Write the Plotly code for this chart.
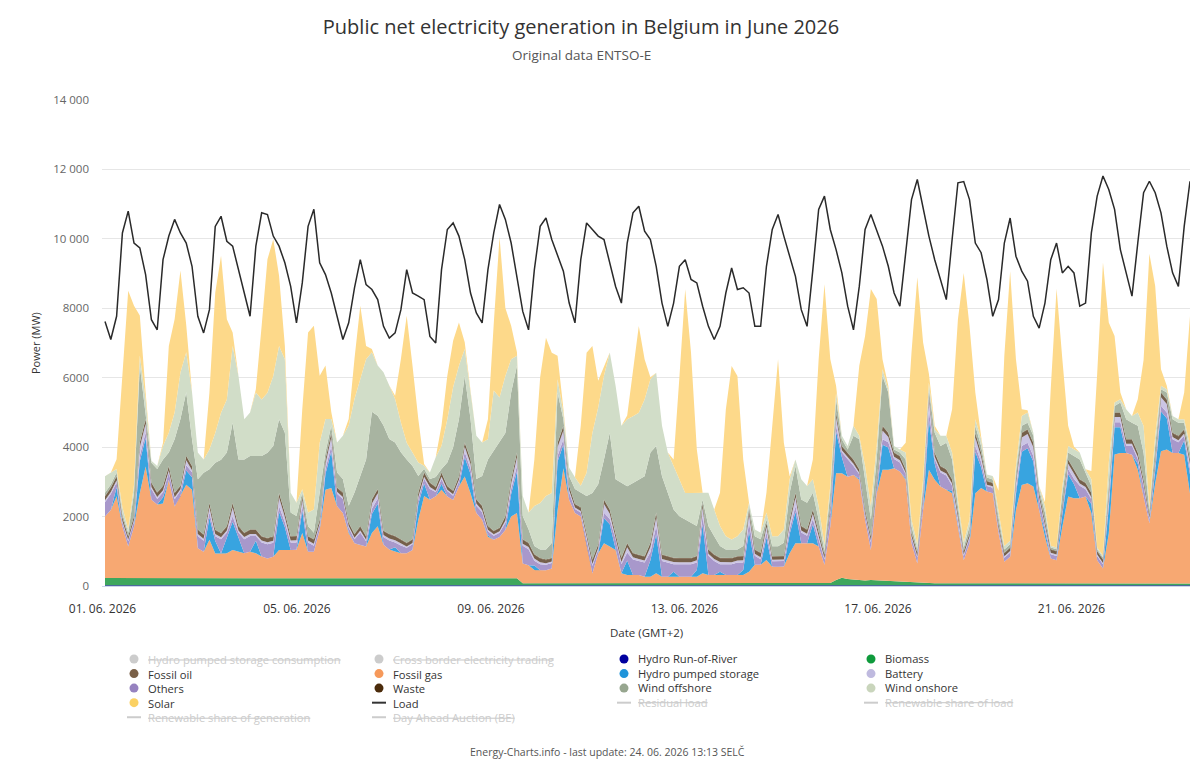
import pandas as pd
import plotly.graph_objects as go

# ---------------- data (3-hourly values, MW, from 01.06.2026 00:00 GMT+2) ----------------
start_time = "2026-06-01 00:00"

load = [
    7620, 7100, 7770, 10170, 10800, 9880, 9740, 8970,
    7670, 7380, 9400, 10080, 10560, 10170, 9880, 9210,
    7770, 7290, 7960, 10360, 10650, 9930, 9790, 9115,
    8440, 7770, 9790, 10750, 10700, 10080, 9790, 9310,
    8630, 7580, 8730, 10360, 10850, 9310, 8970, 8440,
    7770, 7100, 7580, 8590, 9400, 8680, 8540, 8250,
    7480, 7140, 7290, 7960, 9115, 8440, 8350, 8250,
    7190, 7000, 9115, 10270, 10460, 10080, 9400, 8440,
    7865, 7580, 9115, 10170, 10990, 10560, 9880, 8830,
    7910, 7380, 9115, 10360, 10600, 9980, 9550, 9070,
    8150, 7580, 9400, 10460, 10270, 10080, 9980, 9310,
    8630, 8150, 9880, 10750, 10940, 10220, 9980, 9210,
    8150, 7480, 8150, 9210, 9400, 8830, 8730, 8060,
    7480, 7100, 7480, 8440, 9160, 8540, 8590, 8440,
    7480, 7480, 9210, 10270, 10700, 10080, 9500, 8920,
    7960, 7480, 9115, 10850, 11230, 10270, 9690, 9020,
    8060, 7380, 8630, 10270, 10700, 10270, 9790, 9210,
    8440, 8060, 9600, 11130, 11710, 10850, 10080, 9400,
    8830, 8250, 9980, 11615, 11650, 11130, 9880, 9600,
    8830, 7770, 8250, 9880, 10600, 9500, 9070, 8780,
    7770, 7430, 8150, 9400, 9880, 9020, 9210, 9020,
    8060, 8150, 10170, 11230, 11810, 11420, 10850, 9690,
    9020, 8350, 9880, 11330, 11660, 11330, 10750, 9790,
    9020, 8630, 10360, 11660,
]

solar = [
    0, 0, 280, 3810, 6870, 5160, 1150, 190,
    0, 0, 95, 2500, 2690, 2940, 790, 0,
    0, 0, 1640, 4040, 4520, 2310, 390, 0,
    0, 0, 90, 2120, 3840, 3940, 2020, 380,
    0, 0, 2300, 5190, 5290, 1930, 1540, 200,
    0, 0, 190, 1155, 2120, 380, 100, 0,
    0, 0, 95, 1830, 3655, 2500, 1250, 50,
    0, 0, 580, 1250, 1340, 1245, 190, 50,
    0, 0, 580, 1920, 4615, 1960, 960, 100,
    0, 0, 1340, 3620, 4560, 4040, 680, 120,
    0, 0, 1735, 3460, 2500, 770, 260, 0,
    0, 0, 110, 1250, 2500, 1155, 60, 0,
    0, 0, 190, 2940, 5870, 4040, 1250, 0,
    0, 0, 960, 3655, 5000, 4620, 2015, 0,
    0, 0, 570, 3180, 5100, 2500, 90, 0,
    0, 0, 570, 4230, 7500, 3655, 190, 0,
    0, 0, 2020, 3750, 6250, 4230, 290, 100,
    0, 0, 285, 4810, 7690, 3940, 250, 100,
    0, 0, 1245, 5190, 7770, 5580, 770, 90,
    0, 0, 570, 5480, 7770, 3080, 195, 70,
    0, 0, 110, 4520, 7450, 3655, 580, 80,
    0, 0, 240, 5000, 8450, 4040, 1920, 195,
    0, 0, 385, 1900, 7310, 4320, 480, 100,
    0, 0, 770, 3750,
]

wind_onshore = [
    480, 340, 100, 190, 100, 230, 290, 390,
    60, 90, 390, 570, 770, 1340, 1150, 1350,
    770, 380, 570, 860, 1350, 1530, 2210, 2410,
    1160, 1250, 1830, 1630, 1730, 2020, 2110, 2120,
    570, 380, 100, 390, 670, 1445, 960, 190,
    865, 1250, 2310, 2695, 2790, 2890, 1710, 1450,
    1530, 1540, 1250, 860, 485, 390, 390, 90,
    190, 570, 670, 1250, 1730, 1540, 770, 770,
    1250, 965, 580, 1730, 1250, 1640, 960, 290,
    580, 480, 1155, 1340, 1540, 1440, 380, 190,
    240, 340, 195, 670, 1730, 2210, 2410, 2310,
    2690, 1640, 1925, 1920, 1920, 2215, 2110, 2110,
    1450, 1160, 1250, 1060, 770, 860, 960, 190,
    960, 770, 575, 380, 290, 380, 480, 90,
    195, 190, 200, 285, 285, 385, 390, 190,
    580, 485, 390, 390, 190, 195, 195, 100,
    100, 290, 100, 380, 390, 390, 190, 90,
    100, 90, 200, 190, 150, 195, 200, 100,
    290, 195, 200, 190, 145, 190, 190, 190,
    90, 100, 200, 100, 95, 190, 280, 290,
    90, 95, 190, 50, 50, 195, 190, 190,
    200, 100, 195, 50, 50, 580, 100, 95,
    285, 190, 380, 770, 90, 290, 100, 90,
    90, 100, 100, 190,
]

wind_offshore = [
    90, 90, 100, 100, 100, 670, 2210, 190,
    570, 680, 760, 390, 1540, 1920, 1830, 770,
    1450, 1780, 970, 1930, 2110, 2120, 2310, 1920,
    2110, 2120, 2120, 2310, 2455, 2600, 2120, 2300,
    680, 580, 90, 290, 190, 770, 200, 200,
    430, 390, 480, 1200, 1440, 2210, 2520, 2110,
    3030, 2740, 2695, 2500, 2400, 2110, 480, 100,
    100, 290, 100, 675, 1250, 1640, 1925, 1160,
    580, 860, 1920, 2310, 2500, 2400, 2500, 2500,
    670, 390, 235, 240, 290, 430, 1445, 190,
    285, 430, 430, 1060, 1920, 1730, 1150, 2210,
    1540, 2160, 1635, 2020, 2170, 2300, 2600, 1920,
    2260, 1820, 1390, 1200, 1100, 1010, 860, 100,
    670, 530, 335, 240, 240, 190, 285, 100,
    380, 390, 90, 285, 285, 380, 770, 770,
    770, 765, 480, 380, 100, 380, 385, 190,
    90, 680, 860, 870, 480, 570, 1440, 1160,
    90, 100, 280, 190, 90, 195, 90, 570,
    580, 765, 570, 190, 95, 190, 200, 190,
    100, 95, 190, 90, 95, 190, 200, 190,
    195, 100, 200, 50, 50, 290, 200, 380,
    570, 290, 195, 50, 50, 290, 190, 290,
    580, 480, 770, 770, 100, 390, 90, 195,
    390, 380, 190, 200,
]

fossil_gas = [
    1770, 1960, 2350, 1480, 910, 1480, 2440, 3210,
    2250, 2110, 2150, 2830, 2060, 2350, 2680, 2540,
    860, 760, 1100, 710, 710, 710, 810, 760,
    710, 760, 710, 620, 570, 620, 810, 810,
    810, 810, 1290, 760, 760, 1385, 2540, 2590,
    2060, 1870, 1290, 1000, 950, 905, 1290, 1480,
    950, 810, 760, 710, 710, 810, 1670, 2350,
    2250, 2350, 2540, 2350, 2250, 2635, 2920, 2440,
    1870, 1670, 1190, 1100, 1190, 1385, 1770, 1880,
    570, 520, 380, 380, 380, 430, 2110, 3310,
    2400, 2020, 1920, 1150, 285, 860, 1150, 1055,
    960, 285, 240, 240, 240, 190, 190, 285,
    190, 190, 190, 190, 190, 190, 190, 285,
    240, 240, 240, 240, 240, 240, 240, 330,
    530, 530, 670, 480, 480, 480, 860, 1150,
    1150, 1150, 1150, 1055, 530, 1630, 3080, 3010,
    2950, 3020, 2890, 1740, 870, 2510, 3200, 3210,
    3260, 3180, 2950, 1130, 560, 2110, 3270, 2980,
    2785, 2690, 2590, 1630, 670, 1150, 2590, 2740,
    2640, 2590, 1440, 620, 770, 2110, 2830, 2880,
    2785, 2110, 1340, 720, 670, 1630, 2500, 2450,
    2450, 2500, 2020, 670, 430, 1440, 3710, 3750,
    3750, 3700, 3270, 2500, 1730, 2880, 3800, 3850,
    3750, 3750, 3700, 2590,
]

hydro_pumped_storage = [
    0, 0, 260, 0, 0, 0, 920, 820,
    0, 0, 180, 0, 0, 0, 410, 360,
    0, 0, 640, 360, 0, 460, 810, 410,
    0, 0, 360, 0, 0, 0, 1100, 650,
    0, 0, 650, 0, 0, 0, 450, 1050,
    0, 0, 40, 0, 0, 0, 550, 650,
    0, 0, 120, 0, 0, 0, 460, 360,
    0, 0, 170, 0, 0, 0, 555, 550,
    0, 0, 40, 0, 0, 0, 650, 1200,
    0, 0, 130, 0, 0, 0, 1395, 680,
    0, 0, 0, 0, 0, 0, 720, 645,
    0, 0, 420, 0, 0, 0, 470, 1125,
    0, 0, 140, 0, 0, 0, 190, 1405,
    0, 0, 90, 0, 0, 0, 140, 1170,
    0, 0, 650, 0, 0, 0, 550, 910,
    0, 0, 550, 0, 0, 0, 1200, 460,
    0, 0, 40, 0, 0, 0, 720, 640,
    0, 0, 40, 0, 0, 0, 1440, 460,
    0, 0, 80, 0, 0, 0, 1200, 600,
    0, 0, 0, 0, 0, 460, 960, 1010,
    720, 0, 170, 0, 0, 360, 640, 410,
    0, 0, 260, 0, 0, 740, 780, 740,
    0, 0, 170, 0, 0, 360, 1150, 905,
    0, 0, 410, 550,
]

others = [
    410, 460, 140, 120, 150, 160, 160, 160,
    310, 160, 140, 210, 210, 160, 150, 140,
    350, 310, 150, 140, 410, 140, 160, 140,
    410, 450, 140, 400, 405, 400, 160, 150,
    210, 210, 150, 260, 170, 155, 150, 160,
    360, 400, 120, 120, 360, 155, 150, 150,
    220, 260, 140, 220, 160, 160, 140, 140,
    310, 120, 140, 155, 120, 155, 150, 150,
    210, 220, 120, 120, 120, 215, 150, 160,
    510, 460, 140, 170, 160, 160, 160, 160,
    215, 120, 120, 160, 215, 120, 160, 150,
    310, 265, 230, 450, 400, 410, 230, 240,
    450, 410, 220, 360, 360, 360, 220, 240,
    550, 400, 220, 310, 310, 360, 220, 240,
    260, 160, 150, 160, 160, 160, 150, 160,
    310, 215, 150, 215, 150, 410, 160, 140,
    510, 260, 120, 160, 210, 220, 160, 150,
    270, 260, 120, 160, 170, 310, 300, 140,
    405, 410, 140, 220, 120, 160, 160, 150,
    160, 160, 120, 120, 120, 150, 160, 160,
    160, 310, 140, 120, 120, 140, 150, 150,
    360, 210, 140, 120, 120, 150, 150, 150,
    210, 260, 140, 310, 120, 140, 160, 160,
    400, 310, 140, 150,
]

battery = [
    60, 60, 60, 40, 40, 40, 250, 250,
    60, 60, 60, 60, 60, 40, 150, 60,
    60, 60, 150, 60, 60, 60, 250, 60,
    60, 60, 60, 60, 60, 60, 250, 150,
    60, 60, 150, 60, 60, 40, 150, 250,
    60, 60, 40, 40, 60, 40, 150, 150,
    60, 60, 60, 60, 40, 40, 60, 60,
    60, 40, 60, 40, 40, 40, 150, 150,
    60, 60, 40, 40, 40, 60, 150, 250,
    60, 60, 60, 60, 40, 40, 250, 250,
    60, 40, 40, 40, 60, 40, 250, 150,
    60, 60, 150, 60, 60, 60, 150, 250,
    60, 60, 60, 60, 60, 60, 60, 250,
    60, 60, 60, 60, 60, 60, 60, 250,
    60, 60, 150, 40, 40, 40, 150, 250,
    60, 60, 150, 60, 40, 60, 250, 60,
    60, 60, 40, 40, 60, 60, 250, 150,
    60, 60, 40, 40, 40, 60, 350, 60,
    60, 60, 60, 60, 40, 40, 250, 150,
    40, 40, 40, 40, 40, 150, 250, 250,
    250, 60, 60, 40, 40, 60, 150, 150,
    60, 60, 60, 40, 40, 150, 150, 150,
    60, 60, 60, 60, 40, 60, 250, 250,
    60, 60, 60, 150,
]

fossil_oil = [
    110, 110, 110, 90, 90, 90, 120, 120,
    110, 110, 110, 110, 110, 90, 110, 110,
    110, 110, 110, 110, 110, 110, 120, 110,
    110, 110, 110, 110, 110, 110, 120, 110,
    110, 110, 110, 110, 110, 90, 110, 120,
    110, 110, 90, 90, 110, 90, 110, 110,
    110, 110, 110, 110, 90, 90, 110, 110,
    110, 90, 110, 90, 90, 90, 110, 110,
    110, 110, 90, 90, 90, 110, 110, 120,
    110, 110, 110, 110, 90, 90, 120, 120,
    110, 90, 90, 90, 110, 90, 120, 110,
    110, 110, 110, 110, 110, 110, 110, 120,
    110, 110, 110, 110, 110, 110, 110, 120,
    110, 110, 110, 110, 110, 110, 110, 120,
    110, 110, 110, 90, 90, 90, 110, 120,
    110, 110, 110, 110, 90, 110, 120, 110,
    110, 110, 90, 90, 110, 110, 120, 110,
    110, 110, 90, 90, 90, 110, 120, 110,
    110, 110, 110, 110, 90, 90, 120, 110,
    90, 90, 90, 90, 90, 110, 120, 120,
    120, 110, 110, 90, 90, 110, 110, 110,
    110, 110, 110, 90, 90, 110, 110, 110,
    110, 110, 110, 110, 90, 110, 120, 120,
    110, 110, 110, 110,
]

waste = [
    15, 15, 15, 15, 15, 15, 15, 15,
    15, 15, 15, 15, 15, 15, 15, 15,
    15, 15, 15, 15, 15, 15, 15, 15,
    15, 15, 15, 15, 15, 15, 15, 15,
    15, 15, 15, 15, 15, 15, 15, 15,
    15, 15, 15, 15, 15, 15, 15, 15,
    15, 15, 15, 15, 15, 15, 15, 15,
    15, 15, 15, 15, 15, 15, 15, 15,
    15, 15, 15, 15, 15, 15, 15, 15,
    15, 15, 15, 15, 15, 15, 15, 15,
    15, 15, 15, 15, 15, 15, 15, 15,
    15, 15, 15, 15, 15, 15, 15, 15,
    15, 15, 15, 15, 15, 15, 15, 15,
    15, 15, 15, 15, 15, 15, 15, 15,
    15, 15, 15, 15, 15, 15, 15, 15,
    15, 15, 15, 15, 15, 15, 15, 15,
    15, 15, 15, 15, 15, 15, 15, 15,
    15, 15, 15, 15, 15, 15, 15, 15,
    15, 15, 15, 15, 15, 15, 15, 15,
    15, 15, 15, 15, 15, 15, 15, 15,
    15, 15, 15, 15, 15, 15, 15, 15,
    15, 15, 15, 15, 15, 15, 15, 15,
    15, 15, 15, 15, 15, 15, 15, 15,
    15, 15, 15, 15,
]

biomass = [
    210, 210, 215, 215, 210, 210, 215, 215,
    215, 215, 210, 210, 210, 215, 215, 215,
    210, 210, 210, 205, 205, 210, 210, 210,
    210, 210, 210, 210, 205, 205, 210, 210,
    210, 215, 215, 210, 210, 210, 215, 215,
    215, 215, 215, 210, 210, 210, 215, 220,
    220, 220, 215, 215, 210, 210, 215, 220,
    215, 215, 215, 210, 210, 210, 215, 215,
    215, 215, 210, 210, 205, 205, 210, 200,
    60, 60, 60, 55, 55, 55, 60, 60,
    60, 60, 60, 55, 55, 55, 60, 60,
    60, 60, 55, 55, 55, 55, 60, 60,
    60, 60, 60, 55, 55, 55, 60, 60,
    60, 60, 60, 55, 55, 55, 60, 60,
    60, 60, 60, 55, 55, 60, 60, 60,
    60, 60, 60, 60, 60, 65, 150, 220,
    180, 160, 150, 140, 150, 140, 130, 120,
    110, 100, 90, 80, 70, 60, 60, 60,
    60, 60, 60, 55, 55, 55, 60, 60,
    60, 60, 60, 55, 55, 55, 60, 60,
    60, 60, 60, 55, 55, 55, 60, 60,
    60, 60, 60, 55, 55, 55, 60, 60,
    60, 60, 60, 55, 55, 55, 60, 60,
    60, 60, 60, 55,
]

hydro_ror = [
    20, 20, 20, 20, 20, 20, 20, 20,
    20, 20, 20, 20, 20, 20, 20, 20,
    20, 20, 20, 20, 20, 20, 20, 20,
    20, 20, 20, 20, 20, 20, 20, 20,
    20, 20, 20, 20, 20, 20, 20, 20,
    20, 20, 20, 20, 20, 20, 20, 20,
    20, 20, 20, 20, 20, 20, 20, 20,
    20, 20, 20, 20, 20, 20, 20, 20,
    20, 20, 20, 20, 20, 20, 20, 20,
    20, 20, 20, 20, 20, 20, 20, 20,
    20, 20, 20, 20, 20, 20, 20, 20,
    20, 20, 20, 20, 20, 20, 20, 20,
    20, 20, 20, 20, 20, 20, 20, 20,
    20, 20, 20, 20, 20, 20, 20, 20,
    20, 20, 20, 20, 20, 20, 20, 20,
    20, 20, 20, 20, 20, 20, 20, 20,
    20, 20, 20, 20, 20, 20, 20, 20,
    20, 20, 20, 20, 20, 20, 20, 20,
    20, 20, 20, 20, 20, 20, 20, 20,
    20, 20, 20, 20, 20, 20, 20, 20,
    20, 20, 20, 20, 20, 20, 20, 20,
    20, 20, 20, 20, 20, 20, 20, 20,
    20, 20, 20, 20, 20, 20, 20, 20,
    20, 20, 20, 20,
]

y_tick_values = [0, 2000, 4000, 6000, 8000, 10000, 12000, 14000]
y_tick_labels = ["0", "2000", "4000", "6000", "8000", "10 000", "12 000", "14 000"]
x_tick_values = ["2026-05-31 22:43", "2026-06-05 03:16", "2026-06-09 07:35",
                 "2026-06-13 11:38", "2026-06-17 15:41", "2026-06-21 19:44"]
x_tick_labels = ["01. 06. 2026", "05. 06. 2026", "09. 06. 2026",
                 "13. 06. 2026", "17. 06. 2026", "21. 06. 2026"]

# ---------------- figure ----------------
n = min(len(s) for s in [load, solar, wind_onshore, wind_offshore, fossil_gas,
                         hydro_pumped_storage, others, battery, fossil_oil,
                         waste, biomass, hydro_ror])
times = pd.date_range(start_time, periods=n, freq="3h")

FONT = "Open Sans, Noto Sans, DejaVu Sans, sans-serif"

stack = [
    ("Hydro Run-of-River", hydro_ror, "#1c1c9c"),
    ("Biomass", biomass, "#3ea75d"),
    ("Fossil gas", fossil_gas, "#f7a872"),
    ("Hydro pumped storage", hydro_pumped_storage, "#38a4e0"),
    ("Others", others, "#a898cb"),
    ("Battery", battery, "#cbc5e4"),
    ("Fossil oil", fossil_oil, "#75604b"),
    ("Waste", waste, "#5b3d1c"),
    ("Wind offshore", wind_offshore, "#a8b4a1"),
    ("Wind onshore", wind_onshore, "#d1ddc8"),
    ("Solar", solar, "#fdd98a"),
]

fig = go.Figure()
for name, vals, col in stack:
    fig.add_trace(go.Scatter(
        x=times, y=vals[:n], name=name, mode="lines",
        stackgroup="gen", line=dict(width=0, color=col),
        fillcolor=col, showlegend=False,
        hovertemplate="%{y:.0f} MW<extra>" + name + "</extra>",
    ))

fig.add_trace(go.Scatter(
    x=times, y=load[:n], name="Load", mode="lines",
    line=dict(color="#2a2a2a", width=1.5), showlegend=False,
))

# page body has an 8px margin: the figure is laid out in screen pixels minus that offset
OFF = 8
W, H = 1192, 769
L, R, T, B = 102 - OFF, 10, 100 - OFF, 191
PW, PH = W - L - R, H - T - B


def px(xs):
    return (xs - OFF - L) / PW


def py(ys):
    return (T + PH - (ys - OFF)) / PH


annotations = []
shapes = []

annotations.append(dict(text="Original data ENTSO-E", x=px(581), xref="paper",
                        y=py(55), yref="paper", xanchor="center", yanchor="middle",
                        showarrow=False, font=dict(family=FONT, size=13.5, color="#555555")))
annotations.append(dict(text="Date (GMT+2)", x=px(646), y=py(632), xref="paper", yref="paper",
                        xanchor="center", yanchor="middle", showarrow=False,
                        font=dict(family=FONT, size=11.5, color="#333333")))
annotations.append(dict(text="Power (MW)", x=px(35), y=py(343), xref="paper", yref="paper",
                        xanchor="center", yanchor="middle", showarrow=False, textangle=-90,
                        font=dict(family=FONT, size=11, color="#333333")))
annotations.append(dict(text="Energy-Charts.info - last update: 24. 06. 2026 13:13 SELČ",
                        x=px(607), y=py(752), xref="paper", yref="paper",
                        xanchor="center", yanchor="middle", showarrow=False,
                        font=dict(family=FONT, size=10.5, color="#555555")))

# custom legend: 4 columns, one multi-line text block per column
legend_items = [
    ("Hydro pumped storage consumption", "#cccccc", "dot", False),
    ("Cross border electricity trading", "#cccccc", "dot", False),
    ("Hydro Run-of-River", "#00009f", "dot", True),
    ("Biomass", "#0f9a3c", "dot", True),
    ("Fossil oil", "#7a6048", "dot", True),
    ("Fossil gas", "#f6995a", "dot", True),
    ("Hydro pumped storage", "#1f94da", "dot", True),
    ("Battery", "#bfbadf", "dot", True),
    ("Others", "#9682c0", "dot", True),
    ("Waste", "#4b2b0b", "dot", True),
    ("Wind offshore", "#97a68f", "dot", True),
    ("Wind onshore", "#c9d5bc", "dot", True),
    ("Solar", "#fbd163", "dot", True),
    ("Load", "#333333", "line", True),
    ("Residual load", "#cccccc", "line", False),
    ("Renewable share of load", "#cccccc", "line", False),
    ("Renewable share of generation", "#cccccc", "line", False),
    ("Day Ahead Auction (BE)", "#cccccc", "line", False),
]
LEG_FONT = 11.2
ROW_GAP = LEG_FONT * 1.3
col_text_x = [147, 392, 637, 884]
first_row_y = 659
columns = {0: [], 1: [], 2: [], 3: []}
for i, (label, col, kind, active) in enumerate(legend_items):
    r, c = divmod(i, 4)
    tx, ty = col_text_x[c], first_row_y + r * ROW_GAP
    mx = tx - 13
    if kind == "dot":
        shapes.append(dict(type="circle", xref="paper", yref="paper",
                           xsizemode="pixel", ysizemode="pixel",
                           xanchor=px(mx), yanchor=py(ty),
                           x0=-4.5, x1=4.5, y0=-4.5, y1=4.5,
                           fillcolor=col, line=dict(width=0)))
    else:
        shapes.append(dict(type="line", xref="paper", yref="paper",
                           xsizemode="pixel", ysizemode="pixel",
                           xanchor=px(mx), yanchor=py(ty),
                           x0=-7, x1=7, y0=0, y1=0,
                           line=dict(color=col, width=2)))
    if active:
        columns[c].append(label)
    else:
        columns[c].append('<span style="color:#cccccc"><s>' + label + '</s></span>')

for c, lines in columns.items():
    nl = len(lines)
    center_y = first_row_y + (nl - 1) * ROW_GAP / 2
    annotations.append(dict(text="<br>".join(lines), x=px(col_text_x[c]), y=py(center_y),
                            xref="paper", yref="paper", xanchor="left", yanchor="middle",
                            align="left", showarrow=False, borderpad=0,
                            font=dict(family=FONT, size=LEG_FONT, color="#333333")))

fig.update_layout(
    width=W, height=H,
    margin=dict(l=L, r=R, t=T, b=B),
    paper_bgcolor="white", plot_bgcolor="white",
    title=dict(text="Public net electricity generation in Belgium in June 2026",
               x=(581 - OFF) / W, xref="container", xanchor="center",
               y=1 - (27 - OFF) / H, yref="container", yanchor="middle",
               font=dict(family=FONT, size=20, color="#333333")),
    showlegend=False,
    font=dict(family=FONT, size=11, color="#666666"),
    xaxis=dict(type="date", range=["2026-05-31 22:27", "2026-06-24 09:00"],
               tickmode="array", tickvals=x_tick_values, ticktext=x_tick_labels,
               showgrid=False, zeroline=False, showline=True, linecolor="#ccd6eb",
               linewidth=1, ticks="", ticklabelstandoff=12,
               tickfont=dict(family=FONT, size=12, color="#333333")),
    yaxis=dict(range=[0, 14000], tickmode="array", tickvals=y_tick_values,
               ticktext=y_tick_labels, showgrid=True, gridcolor="#e6e6e6",
               gridwidth=1, zeroline=False, showline=False, ticks="",
               ticklabelstandoff=12,
               tickfont=dict(family=FONT, size=11.5, color="#666666")),
    annotations=annotations,
    shapes=shapes,
    hovermode="x unified",
)

fig.write_html("out.html")
